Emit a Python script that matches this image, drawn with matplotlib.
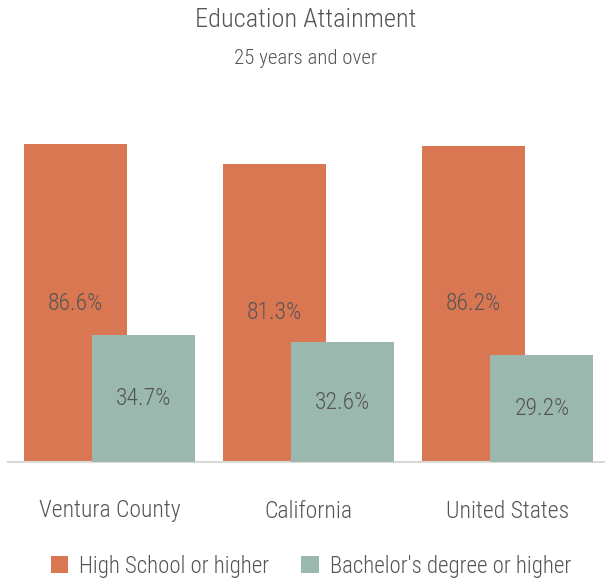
import matplotlib
matplotlib.use("Agg")
import matplotlib.pyplot as plt
from matplotlib import font_manager
from matplotlib.font_manager import FontProperties
import numpy as np
import os

categories = ["Ventura County", "California", "United States"]
series_names = ["High School or higher", "Bachelor's degree or higher"]
high_school = [86.6, 81.3, 86.2]
bachelors = [34.7, 32.6, 29.2]
colors = ["#D97753", "#9BB8AF"]

def find_font():
    files = [f.fname for f in font_manager.fontManager.ttflist]
    patterns = [("opensans", "condensed", "light"),
                ("robotocondensed", "light"),
                ("firasanscondensed", "light"),
                ("barlowcondensed", "light")]
    for pat in patterns:
        for fn in files:
            b = os.path.basename(fn).lower().replace("_", "").replace("-", "")
            if all(p in b for p in pat) and "italic" not in b and "extralight" not in b:
                return fn
    return None

fpath = find_font()

def fp(size):
    if fpath:
        return FontProperties(fname=fpath, size=size)
    return FontProperties(family="DejaVu Sans", size=size)

text_color = "#555555"

fig = plt.figure(figsize=(6.05, 5.83), dpi=100)
ax = fig.add_axes([8/605, (583-462)/583, 597/605, 367/583])

x = np.arange(len(categories))
width = 0.518
offset = 0.173
b1 = ax.bar(x - offset, high_school, width, color=colors[0], label=series_names[0], zorder=2)
b2 = ax.bar(x + offset, bachelors, width, color=colors[1], label=series_names[1], zorder=3)

for bars, vals in ((b1, high_school), (b2, bachelors)):
    for rect, v in zip(bars, vals):
        ax.text(rect.get_x() + rect.get_width()/2, v/2, f"{v:.1f}%",
                ha="center", va="center", fontproperties=fp(17), color=text_color, zorder=4)

ax.set_xlim(-0.51, 2.49)
ax.set_ylim(0, 100)
ax.set_yticks([])
ax.set_xticks(x)
ax.set_xticklabels(categories, color=text_color)
for lbl in ax.get_xticklabels():
    lbl.set_fontproperties(fp(17))
ax.tick_params(axis='x', length=0, pad=27)
for s in ["top", "right", "left"]:
    ax.spines[s].set_visible(False)
ax.spines["bottom"].set_color("#d9d9d9")
ax.spines["bottom"].set_linewidth(1.5)

fig.text(0.505, 1 - 20/583, "Education Attainment", ha="center", va="center",
         fontproperties=fp(19), color=text_color)
fig.text(0.505, 1 - 59/583, "25 years and over", ha="center", va="center",
         fontproperties=fp(15), color=text_color)

leg = fig.legend(handles=[b1, b2], labels=series_names, loc="center",
                 bbox_to_anchor=(311/605, 1 - 566/583), ncol=2, frameon=False,
                 prop=fp(16.5), handlelength=0.75, handleheight=0.75,
                 handletextpad=0.5, columnspacing=1.4)
for t in leg.get_texts():
    t.set_color(text_color)

fig.savefig("out.png", dpi=100)
